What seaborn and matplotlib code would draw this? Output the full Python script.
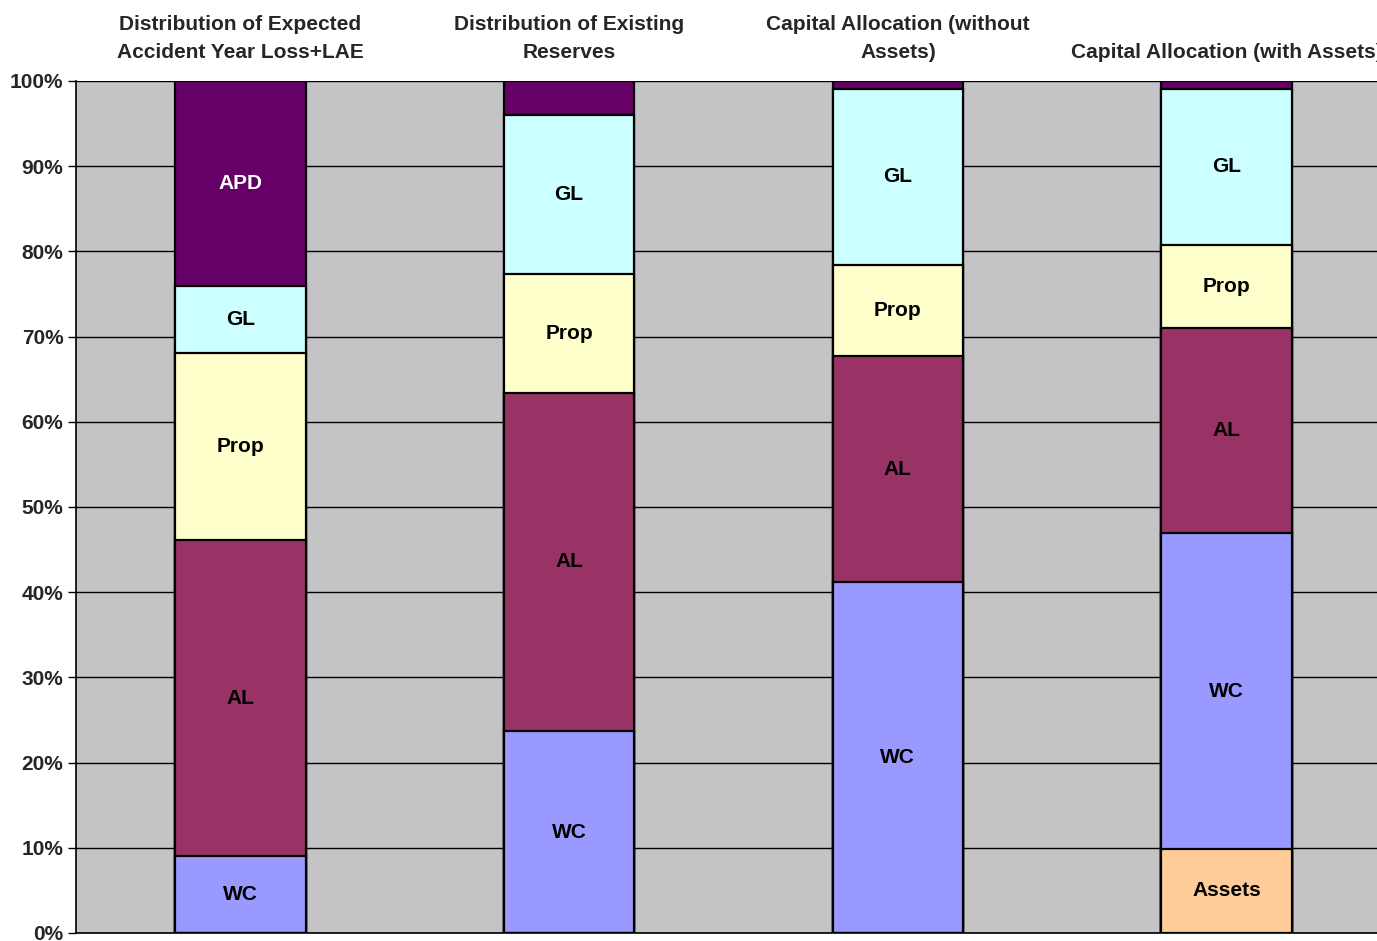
import numpy as np
import pandas as pd
import matplotlib
matplotlib.use("Agg")
import matplotlib.pyplot as plt
import seaborn as sns

# Column headings (one per stacked bar)
categories = [
    "Distribution of Expected\nAccident Year Loss+LAE",
    "Distribution of Existing\nReserves",
    "Capital Allocation (without\nAssets)",
    "Capital Allocation (with Assets)",
]

# Segment order from bottom to top
segments = ["Assets", "WC", "AL", "Prop", "GL", "APD"]

# Share of each segment in each column (%)
assets = [0.0, 0.0, 0.0, 9.9]
wc = [9.0, 23.7, 41.2, 37.0]
al = [37.1, 39.7, 26.5, 24.1]
prop = [22.0, 13.9, 10.7, 9.8]
gl = [7.8, 18.7, 20.7, 18.3]
apd = [24.1, 4.0, 0.9, 0.9]

colors = {
    "Assets": "#FFCC99",
    "WC": "#9999FF",
    "AL": "#993366",
    "Prop": "#FFFFCC",
    "GL": "#CCFFFF",
    "APD": "#660066",
}
text_colors = {"APD": "white"}

values = pd.DataFrame(
    {"Assets": assets, "WC": wc, "AL": al, "Prop": prop, "GL": gl, "APD": apd},
    index=categories,
)
tops = values.cumsum(axis=1)
bottoms = tops - values

sns.set_style("white")
plt.rcParams["font.family"] = ["Liberation Sans", "DejaVu Sans"]
plt.rcParams["font.weight"] = "bold"

fig = plt.figure(figsize=(13.77, 9.41), dpi=100)
ax = fig.add_axes([76 / 1377, 8 / 941, 1315 / 1377, 852 / 941])
ax.set_facecolor("#C4C3C6")

# Stack by overlaying cumulative bars, tallest first
for seg in reversed(segments):
    df = pd.DataFrame({"cat": categories, "top": tops[seg].values})
    sns.barplot(
        data=df, x="cat", y="top", order=categories, color=colors[seg],
        saturation=1, width=0.397, edgecolor="black", linewidth=1.6, ax=ax,
        zorder=3,
    )

# Segment name inside each segment large enough to hold it
for i, cat in enumerate(categories):
    for seg in segments:
        v = values.loc[cat, seg]
        if v < 5:
            continue
        y = bottoms.loc[cat, seg] + v / 2
        ax.text(i, y, seg, ha="center", va="center", fontsize=15,
                fontweight="bold", color=text_colors.get(seg, "black"),
                zorder=5)

ax.set_ylim(0, 100)
ax.set_xlim(-0.5, 3.5)
ax.set_yticks(np.arange(0, 101, 10))
ax.set_yticklabels([f"{t}%" for t in range(0, 101, 10)], fontsize=15,
                   fontweight="bold")
ax.yaxis.grid(True, color="black", linewidth=1.0)
ax.set_axisbelow(True)
ax.tick_params(axis="y", length=6, width=1, color="black", pad=3, left=True)

ax.xaxis.tick_top()
ax.set_xticks(range(len(categories)))
ax.set_xticklabels(categories, fontsize=15, fontweight="bold", va="bottom",
                   linespacing=1.6)
ax.tick_params(axis="x", length=0, pad=14)
ax.set_xlabel("")
ax.set_ylabel("")

for side in ["top", "right"]:
    ax.spines[side].set_visible(False)
ax.spines["left"].set_color("black")
ax.spines["bottom"].set_color("black")
ax.spines["left"].set_linewidth(1.2)
ax.spines["bottom"].set_linewidth(1.2)

fig.savefig("out.png", dpi=100, facecolor="white")
